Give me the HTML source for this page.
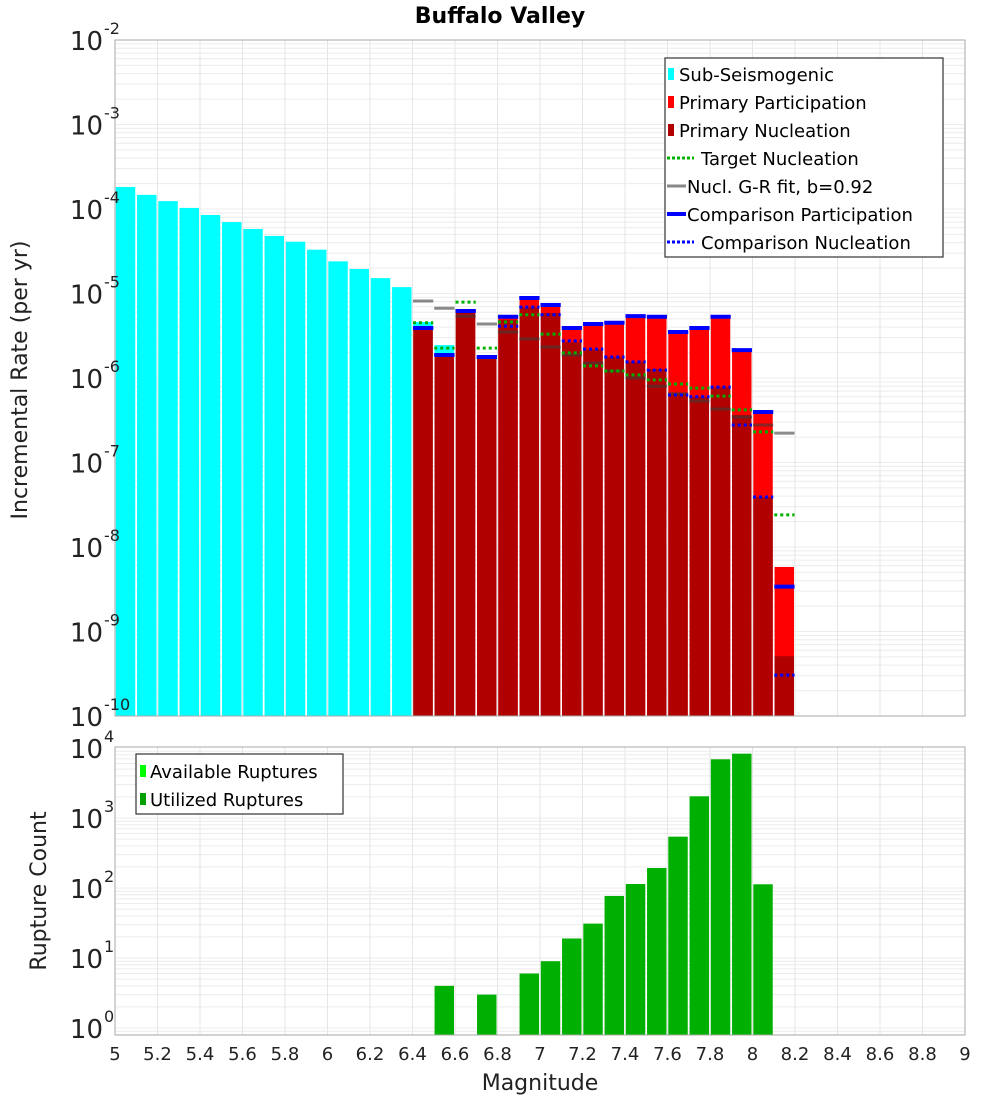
<!DOCTYPE html>
<html><head><meta charset="utf-8"><style>
body{margin:0;background:#fff;}
svg{font-family:"DejaVu Sans","Liberation Sans",sans-serif;}
</style></head><body>
<svg id="chart" width="1000" height="1100" xmlns="http://www.w3.org/2000/svg"></svg>
<script>
// ---- data: top panel (bins of 0.1 magnitude) ----
const subSeisMags = [5.05,5.15,5.25,5.35,5.45,5.55,5.65,5.75,5.85,5.95,6.05,6.15,6.25,6.35,6.45,6.55];
const subSeisRates = [1.82e-4,1.47e-4,1.24e-4,1.03e-4,8.5e-5,7.0e-5,5.8e-5,4.8e-5,4.1e-5,3.3e-5,2.4e-5,1.95e-5,1.52e-5,1.19e-5,4.6e-6,2.45e-6];
const primMags = [6.45,6.55,6.65,6.75,6.85,6.95,7.05,7.15,7.25,7.35,7.45,7.55,7.65,7.75,7.85,7.95,8.05,8.15];
const partRates = [3.9e-6,1.87e-6,6.2e-6,1.77e-6,5.3e-6,8.85e-6,7.3e-6,3.9e-6,4.35e-6,4.5e-6,5.4e-6,5.3e-6,3.5e-6,3.9e-6,5.3e-6,2.14e-6,3.96e-7,5.8e-9];
const nuclRates = [3.9e-6,1.87e-6,6.2e-6,1.77e-6,4.85e-6,6.9e-6,5.9e-6,2.65e-6,2.2e-6,1.77e-6,1.55e-6,1.28e-6,6.6e-7,6.0e-7,7.8e-7,3.65e-7,3.9e-8,5.1e-10];
const targetRates = [4.5e-6,2.26e-6,7.9e-6,2.26e-6,4.6e-6,5.6e-6,3.3e-6,1.98e-6,1.39e-6,1.21e-6,1.09e-6,9.5e-7,8.5e-7,7.6e-7,6.1e-7,4.2e-7,2.3e-7,2.4e-8];
const grRates = [8.15e-6,6.7e-6,5.4e-6,4.35e-6,3.5e-6,2.9e-6,2.33e-6,1.87e-6,1.5e-6,1.21e-6,1.0e-6,8.0e-7,6.5e-7,5.35e-7,4.3e-7,3.45e-7,2.78e-7,2.23e-7];
const compPartRates = [3.9e-6,1.87e-6,6.2e-6,1.77e-6,5.3e-6,8.85e-6,7.3e-6,3.9e-6,4.35e-6,4.5e-6,5.4e-6,5.3e-6,3.5e-6,3.9e-6,5.3e-6,2.14e-6,3.96e-7,3.4e-9];
const compNuclRates = [3.9e-6,1.87e-6,6.2e-6,1.77e-6,4.1e-6,6.9e-6,5.6e-6,2.75e-6,2.2e-6,1.77e-6,1.55e-6,1.24e-6,6.3e-7,6.0e-7,7.8e-7,2.78e-7,3.9e-8,3.05e-10];
// ---- data: bottom panel ----
const countMags = [6.55,6.75,6.95,7.05,7.15,7.25,7.35,7.45,7.55,7.65,7.75,7.85,7.95,8.05];
const utilizedCounts = [4,3,6,9,19,31,77,114,193,541,2042,6900,8300,113];
const xTicks = ["5","5.2","5.4","5.6","5.8","6","6.2","6.4","6.6","6.8","7","7.2","7.4","7.6","7.8","8","8.2","8.4","8.6","8.8","9"];
const topExps = [-2,-3,-4,-5,-6,-7,-8,-9,-10];
const botExps = [4,3,2,1,0];

const NS="http://www.w3.org/2000/svg";
const svg=document.getElementById('chart');
function el(tag,attrs,parent){const e=document.createElementNS(NS,tag);for(const k in attrs)e.setAttribute(k,attrs[k]);(parent||svg).appendChild(e);return e;}
const X0=115,X1=965;
const xs=m=>X0+(m-5)*(X1-X0)/4;
const BW=(X1-X0)/40;
const T0=40,T1=716;
const yTop=v=>T0+(-2-Math.log10(v))*(T1-T0)/8;
const B0=747,B1=1035,BD=70;
const yBot=v=>748+(4-Math.log10(v))*BD;

// grids
function grid(ytop,ybot,yfn,emin,emax){
  for(let e=emin;e<=emax;e++){for(let k=1;k<10;k++){const y=yfn(k*Math.pow(10,e));if(y<ytop-0.5||y>ybot+0.5)continue;
    const l=el('line',{x1:X0,x2:X1,y1:y,y2:y,stroke:'#ececec','stroke-width':1});
    
    }}
  for(let i=0;i<=20;i++){const x=xs(5+i*0.2);
    const l=el('line',{x1:x,x2:x,y1:ytop,y2:ybot,stroke:'#e6e6e6','stroke-width':1});
    
    }
}
grid(T0,T1,yTop,-10,-3);
grid(B0,B1,yBot,-1,3);

function bar(m,v,yfn,base,color,name){
  const x=xs(m)-BW/2+0.8,y=yfn(v);
  const r=el('rect',{x:x,y:y,width:BW-1.8,height:Math.max(0,base-y),fill:color});
  
  
}
function seg(m,v,color,w,dash,name,op){
  const y=yTop(v);
  const a={x1:xs(m)-BW/2+0.5,x2:xs(m)+BW/2-0.5,y1:y,y2:y,stroke:color,'stroke-width':w};
  if(dash)a['stroke-dasharray']=dash;
  if(op)a['stroke-opacity']=op;
  const l=el('line',a);
  
  
}
subSeisMags.forEach((m,i)=>bar(m,subSeisRates[i],yTop,T1,'#00ffff','sub-seismogenic-bar'));
primMags.forEach((m,i)=>bar(m,partRates[i],yTop,T1,'#ff0000','participation-bar'));
primMags.forEach((m,i)=>bar(m,nuclRates[i],yTop,T1,'#b00000','nucleation-bar'));
primMags.forEach((m,i)=>seg(m,grRates[i],'#3c3c3c',3,null,'gr-fit-segment',0.6));
primMags.forEach((m,i)=>seg(m,targetRates[i],'#00b000',3,'3,3','target-nucleation-segment'));
primMags.forEach((m,i)=>seg(m,compPartRates[i],'#0000ff',4,null,'comparison-participation-segment'));
primMags.forEach((m,i)=>seg(m,compNuclRates[i],'#0000ff',3,'3,3','comparison-nucleation-segment'));
countMags.forEach((m,i)=>bar(m,utilizedCounts[i],yBot,B1,'#00b000','utilized-ruptures-bar'));

// frames
const f1=el('rect',{x:X0,y:T0,width:X1-X0,height:T1-T0,fill:'none',stroke:'#aaa','stroke-width':1});

const f2=el('rect',{x:X0,y:B0,width:X1-X0,height:B1-B0,fill:'none',stroke:'#aaa','stroke-width':1});


// y tick labels
function ylab(y,e,name){
  const t=el('text',{x:103,y:y+10,'font-size':26,'text-anchor':'end',fill:'#222'});t.textContent='10';
  
  const s=el('text',{x:104,y:y-6,'font-size':16,fill:'#222'});s.textContent=String(e);
  
}
topExps.forEach(e=>ylab(yTop(Math.pow(10,e)),e,'top-y-tick-label'));
botExps.forEach(e=>ylab(yBot(Math.pow(10,e)),e,'bottom-y-tick-label'));
xTicks.forEach(s=>{const t=el('text',{x:xs(parseFloat(s)),y:1060,'font-size':18,'text-anchor':'middle',fill:'#222'});t.textContent=s;
  });
</script>
<script>
// titles and legends
(function(){
const NS="http://www.w3.org/2000/svg";const svg=document.getElementById('chart');
function el(tag,attrs){const e=document.createElementNS(NS,tag);for(const k in attrs)e.setAttribute(k,attrs[k]);svg.appendChild(e);return e;}
let t=el('text',{x:500,y:23,'font-size':22,'font-weight':'bold','text-anchor':'middle'});t.textContent='Buffalo Valley';

t=el('text',{x:0,y:0,'font-size':22,'text-anchor':'middle',transform:'translate(27,380) rotate(-90)',fill:'#222'});t.textContent='Incremental Rate (per yr)';

t=el('text',{x:0,y:0,'font-size':22,'text-anchor':'middle',transform:'translate(46,891) rotate(-90)',fill:'#222'});t.textContent='Rupture Count';

t=el('text',{x:540,y:1090,'font-size':22,'text-anchor':'middle',fill:'#222'});t.textContent='Magnitude';


let b=el('rect',{x:665,y:58,width:278,height:199,fill:'#fff',stroke:'#333','stroke-width':1.2});

const items=[['Sub-Seismogenic','sq','#00ffff',679],['Primary Participation','sq','#ff0000',679],['Primary Nucleation','sq','#b00000',679],
 ['Target Nucleation','dot','#00b000',701],['Nucl. G-R fit, b=0.92','line','#888',687],['Comparison Participation','line','#0000ff',687],['Comparison Nucleation','dot','#0000ff',701]];
items.forEach((it,i)=>{const y=74+i*28;
  if(it[1]==='sq'){const r=el('rect',{x:668,y:y-6,width:6,height:12,fill:it[2]});}
  else{const a={x1:667,x2:686,y1:y,y2:y,stroke:it[2],'stroke-width':it[2]==='#888'?3:4};if(it[1]==='dot'){a['stroke-dasharray']='3,2';a['stroke-width']=3;a.x2=694;}
    const l=el('line',a);}
  const tx=el('text',{x:it[3],y:y+7,'font-size':18});tx.textContent=it[0];
  });
b=el('rect',{x:136,y:754,width:207,height:60,fill:'#fff',stroke:'#333','stroke-width':1.2});

[['Available Ruptures','#00ff00'],['Utilized Ruptures','#00a000']].forEach((it,i)=>{const y=771+i*28;
  const r=el('rect',{x:140,y:y-6,width:6,height:12,fill:it[1]});
  const tx=el('text',{x:150,y:y+7,'font-size':18});tx.textContent=it[0];
  });
})();
</script>
</body></html>
